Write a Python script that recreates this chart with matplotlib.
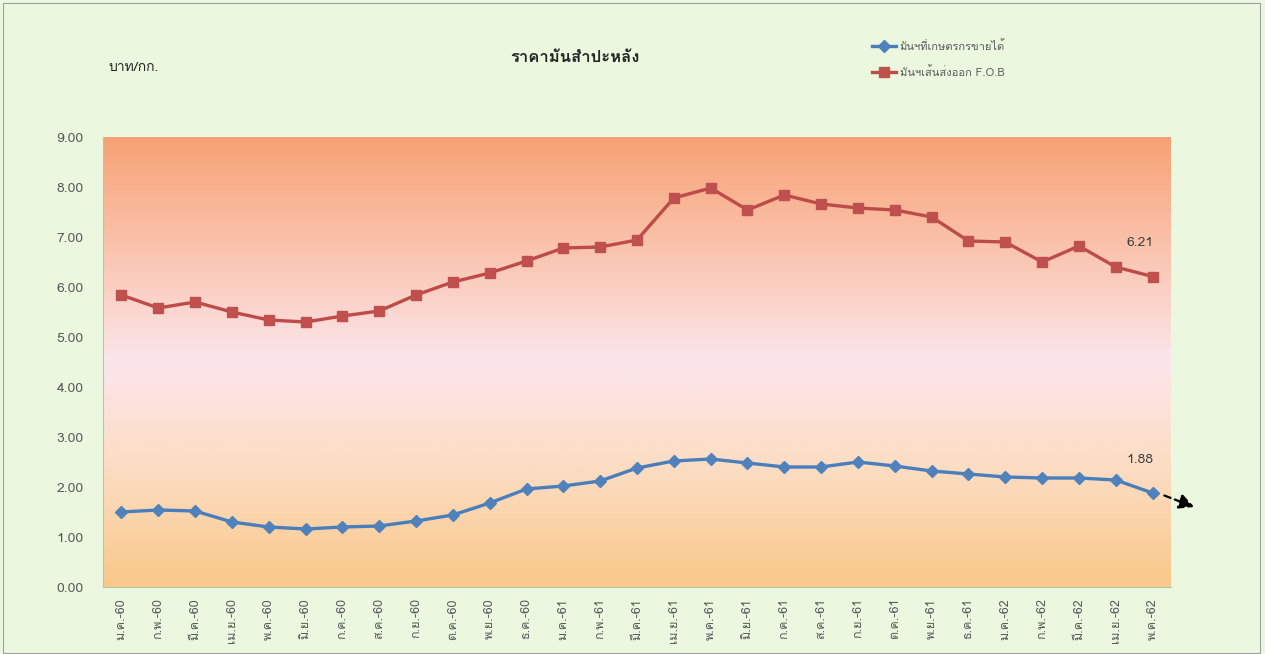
import matplotlib
matplotlib.use("Agg")
import matplotlib.pyplot as plt
import numpy as np
from matplotlib import font_manager
from matplotlib.ft2font import FT2Font
from matplotlib.colors import LinearSegmentedColormap

months = ["ม.ค.", "ก.พ.", "มี.ค.", "เม.ย.", "พ.ค.", "มิ.ย.", "ก.ค.", "ส.ค.", "ก.ย.", "ต.ค.", "พ.ย.", "ธ.ค."]
categories = [f"{m}-{y}" for y in ("60", "61") for m in months] + [f"{m}-62" for m in months[:5]]

farm_price = [1.50, 1.54, 1.52, 1.30, 1.20, 1.16, 1.20, 1.22, 1.32, 1.44, 1.68, 1.96,
              2.02, 2.12, 2.38, 2.52, 2.56, 2.48, 2.40, 2.40, 2.50, 2.42, 2.32, 2.26,
              2.20, 2.18, 2.18, 2.14, 1.88]
export_price = [5.84, 5.58, 5.70, 5.50, 5.34, 5.30, 5.42, 5.52, 5.84, 6.10, 6.28, 6.52,
                6.78, 6.80, 6.94, 7.78, 7.98, 7.54, 7.84, 7.66, 7.58, 7.54, 7.40, 6.92,
                6.90, 6.50, 6.82, 6.40, 6.21]
series_names = ["มันฯที่เกษตรกรขายได้", "มันฯเส้นส่งออก F.O.B"]
yticks = [0, 1, 2, 3, 4, 5, 6, 7, 8, 9]

# find a font with Thai glyphs
thai_family = None
for f in font_manager.fontManager.ttflist:
    try:
        cm = FT2Font(f.fname).get_charmap()
        if 0x0E01 in cm and 0x0E21 in cm:
            thai_family = f.name
            if "Sans" in f.name or "Loma" in f.name or "Tahoma" in f.name:
                break
    except Exception:
        pass
fams = ([thai_family] if thai_family else []) + ["DejaVu Sans"]
plt.rcParams["font.family"] = fams

W, H = 1265, 654
fig = plt.figure(figsize=(W / 100, H / 100), dpi=100)
fig.patch.set_facecolor("#EBF7DF")
ax = fig.add_axes([103 / W, 1 - 587 / H, (1171 - 103) / W, (587 - 137) / H])

n = len(categories)
x = np.arange(n)
ax.set_xlim(-0.5, n - 0.5)
ax.set_ylim(0, 9)

# gradient background
cmap = LinearSegmentedColormap.from_list("bg", [
    (0.0, "#F9C88A"),
    (0.25, "#FCDCC0"),
    (0.5, "#FCE6EC"),
    (0.75, "#FAC4AE"),
    (1.0, "#F7A275"),
])
grad = np.linspace(0, 1, 256).reshape(-1, 1)
ax.imshow(grad, extent=(-0.5, n - 0.5, 0, 9), origin="lower", aspect="auto", cmap=cmap, zorder=0)

ax.plot(x, farm_price, color="#4A7EBB", lw=2.4, marker="D", ms=6.5, mfc="#4F81BD", mec="#4F81BD", zorder=3,
        label=series_names[0])
ax.plot(x, export_price, color="#BE4B48", lw=2.4, marker="s", ms=7, mfc="#C0504D", mec="#C0504D", zorder=3,
        label=series_names[1])

ax.text(n - 1.35, export_price[-1] + 0.66, f"{export_price[-1]:.2f}", fontsize=10, color="#404040", ha="center", va="center")
ax.text(n - 1.35, farm_price[-1] + 0.66, f"{farm_price[-1]:.2f}", fontsize=10, color="#404040", ha="center", va="center")

ax.annotate("", xy=(n + 0.2, farm_price[-1] - 0.3), xytext=(n - 0.75, farm_price[-1] - 0.03),
            arrowprops=dict(arrowstyle="-|>,head_length=0.9,head_width=0.45", color="black", lw=1.6,
                            linestyle=(0, (3, 2))),
            annotation_clip=False, zorder=5)

ax.set_yticks(yticks)
ax.set_yticklabels([f"{v:.2f}" for v in yticks], fontsize=10, color="#595959")
ax.set_xticks(x)
ax.set_xticklabels(categories, rotation=90, fontsize=9, color="#595959")
ax.tick_params(length=0, pad=8)
ax.tick_params(axis="y", pad=14)
for s in ["top", "right"]:
    ax.spines[s].set_visible(False)
ax.spines["left"].set_color("#B5C9A0")
ax.spines["bottom"].set_color("#B5C9A0")

fig.text(575 / W, 1 - 58 / H, "ราคามันสำปะหลัง", fontsize=12, fontweight="bold", color="#262626",
         ha="center", va="center")
fig.text(108 / W, 1 - 68 / H, "บาท/กก.", fontsize=10, color="#262626", ha="left", va="center")

leg = fig.legend(loc="upper left", bbox_to_anchor=(862 / W, 1 - 30 / H), frameon=False, fontsize=8,
                 labelcolor="#595959", handlelength=2.2, labelspacing=1.3, handletextpad=0.3)

fig.add_artist(plt.Rectangle((0.002, 0.002), 0.994, 0.994, transform=fig.transFigure, fill=False,
                             edgecolor="#A0A0A0", lw=0.8))

fig.savefig("out.png", dpi=100, facecolor=fig.get_facecolor())
